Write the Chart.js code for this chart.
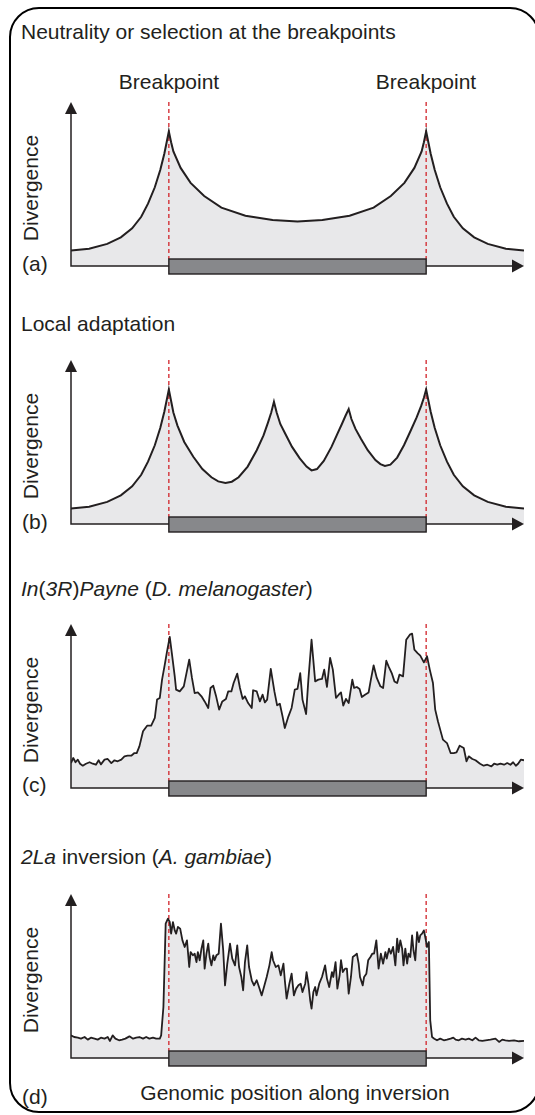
<!DOCTYPE html>
<html>
<head>
<meta charset="utf-8">
<script src="https://cdn.jsdelivr.net/npm/chart.js@4.4.1/dist/chart.umd.min.js"></script>
<style>
  body { margin: 0; background: #fff; width: 535px; height: 1115px; overflow: hidden; position: relative;
         font-family: "Liberation Sans", Arial, sans-serif; color: #231f20; }
  .frame { position: absolute; left: 8.75px; top: 6.75px; width: 531px; height: 1106.5px;
           border: 2.5px solid #000; border-radius: 30px; box-sizing: border-box; }
  .txt { position: absolute; font-size: 21px; line-height: 24px; white-space: nowrap; }
  .ctr { text-align: center; }
  canvas { position: absolute; left: 0; }
</style>
</head>
<body>
<div class="frame"></div>

<div class="txt" style="left:21px;top:19.5px">Neutrality or selection at the breakpoints</div>
<div class="txt ctr" style="left:99px;top:70px;width:140px">Breakpoint</div>
<div class="txt ctr" style="left:356px;top:70px;width:140px">Breakpoint</div>
<div class="txt" style="left:21px;top:312px">Local adaptation</div>
<div class="txt" style="left:21px;top:576.5px"><i>In</i>(<i>3R</i>)<i>Payne</i> (<i>D. melanogaster</i>)</div>
<div class="txt" style="left:21px;top:845px"><i>2La</i> inversion (<i>A. gambiae</i>)</div>

<div class="txt" style="left:22px;top:252px">(a)</div>
<div class="txt" style="left:22px;top:510px">(b)</div>
<div class="txt" style="left:22px;top:773px">(c)</div>
<div class="txt" style="left:22px;top:1084.5px">(d)</div>
<div class="txt ctr" style="left:95px;top:1081px;width:400px">Genomic position along inversion</div>

<div id="ylabels"></div>

<canvas id="chartA"></canvas>
<canvas id="chartB"></canvas>
<canvas id="chartC"></canvas>
<canvas id="chartD"></canvas>

<script>
// positions along the chromosome (0-100) and divergence (0-100 of axis height)
const breakpoints = [21.6, 78.4];

const posA = [0, 4, 8, 11, 13.5, 15.5, 17, 18.5, 19.7, 20.6, 21.6, 22.1, 22.6, 24.2, 26.4, 29.4, 33.2, 38.5, 44.5, 50,
  55.5, 61.5, 66.8, 70.6, 73.6, 75.8, 77.4, 77.9, 78.4, 79.4, 80.3, 81.5, 83, 84.5, 86.5, 89, 92, 96, 100];
const divA = [9.5, 10.5, 13.5, 17.5, 23, 30, 38, 48, 58.5, 68.5, 82, 75.5, 69.8, 59.8, 50.7, 42.7, 35.6, 30.6, 28, 27.2,
  28, 30.6, 35.6, 42.7, 50.7, 59.8, 69.8, 75.5, 82, 68.5, 58.5, 48, 38, 30, 23, 17.5, 13.5, 10.5, 9.5];

const posB = [0, 4, 8, 11, 13.5, 15.5, 17, 18.5, 19.7, 20.6, 21.6, 22.1, 22.6, 23.5, 25, 27, 29, 31, 32.5, 34.1,
  35.5, 37, 39, 41, 42.5, 43.5, 44.2, 44.8, 45.4, 46.2, 47.3, 48.8, 50.5, 52, 53.1, 54.3, 55.8, 57.5, 58.8, 59.8,
  60.6, 61.3, 61.9, 62.8, 64, 65.5, 67.2, 68.3, 69.3, 70.5, 72, 73.5, 75, 76.3, 77.3, 77.9, 78.4, 79.4, 80.3, 81.5,
  83, 84.5, 86.5, 89, 92, 96, 100];
const divB = [9.5, 10.5, 13.5, 17.5, 23, 30, 38, 48, 58.5, 68.5, 82, 75, 68, 60, 50, 41, 33.5, 28.5, 26, 25,
  25.8, 28.5, 35, 45, 54, 62, 68, 74.5, 68, 61, 55, 47, 40, 35, 32.7, 33.5, 38.5, 47, 55, 61,
  66, 70.1, 64, 58, 52, 45, 39, 36.5, 35.4, 36.2, 40.5, 48, 57, 65, 72, 77, 82, 68.5, 58.5, 48,
  38, 30, 23, 17.5, 13.5, 10.5, 9.5];

const posC = [0, 0.5, 1.0, 1.5, 2.0, 2.6, 3.3, 4.1, 4.8, 5.5, 6.1, 6.6, 7.4, 8.1, 8.9, 9.6, 10.3, 11.1, 11.8, 12.5,
  13.3, 14.0, 14.5, 15.1, 15.9, 16.8, 17.7, 18.5, 19.0, 19.6, 20.1, 20.7, 21.2, 21.8, 22.3, 22.9, 23.2, 24.0, 24.9, 26.1,
  26.7, 27.3, 28.0, 28.8, 29.5, 30.3, 30.8, 31.4, 32.0, 32.7, 33.4, 34.2, 34.7, 35.4, 35.9, 36.7, 37.3, 37.9, 38.4, 39.1,
  39.9, 40.2, 41.0, 41.7, 42.3, 42.8, 43.3, 44.1, 44.9, 45.5, 46.1, 46.7, 47.2, 48.0, 48.7, 49.4, 50.0, 50.6, 51.1, 51.9,
  52.4, 53.1, 53.9, 54.6, 55.4, 55.9, 56.5, 57.2, 57.8, 58.5, 59.3, 59.6, 60.1, 60.7, 61.3, 62.1, 62.5, 63.1, 63.7, 64.2,
  64.9, 65.7, 66.2, 66.8, 67.5, 68.3, 68.9, 69.6, 70.1, 70.8, 71.4, 72.0, 72.5, 73.3, 74.0, 74.8, 75.3, 75.8, 76.5, 77.1,
  77.9, 78.6, 79.2, 79.9, 80.4, 81.0, 81.5, 82.1, 83.0, 83.8, 84.5, 85.1, 85.8, 86.7, 87.3, 87.8, 88.6, 89.3, 90.3, 91.1,
  91.9, 92.8, 93.4, 94.1, 94.8, 95.6, 96.3, 97.0, 97.6, 98.2, 98.7, 99.3, 100];
const divC = [15.2, 18.3, 15.7, 17.3, 14.8, 13.6, 14.8, 15.7, 14.8, 14.2, 16.9, 14.4, 17.3, 17.7, 15.2, 16.9, 16.3, 17.3, 19.3, 19.7,
  19.7, 21.3, 21.3, 25.4, 34.6, 38.0, 38.0, 42.7, 53.9, 54.9, 66.1, 75.2, 83.3, 92.1, 81.3, 68.1, 60.0, 58.9, 62.0, 78.3,
  67.1, 57.9, 58.3, 55.9, 52.8, 48.8, 61.0, 62.4, 56.3, 47.8, 52.8, 54.3, 58.9, 58.9, 64.0, 69.7, 61.0, 54.3, 55.9, 51.8,
  48.8, 59.6, 58.9, 52.8, 56.9, 52.2, 53.9, 72.6, 58.9, 50.4, 51.4, 43.7, 36.6, 43.7, 48.8, 60.0, 60.4, 70.1, 53.9, 45.1,
  66.1, 90.4, 65.0, 66.1, 66.5, 72.2, 61.6, 79.3, 72.2, 54.9, 57.5, 58.3, 50.2, 54.3, 51.8, 66.1, 61.0, 61.6, 60.4, 55.5,
  56.9, 58.3, 66.1, 74.8, 67.1, 62.0, 61.0, 77.6, 74.2, 70.1, 65.0, 64.0, 69.1, 68.1, 90.4, 93.5, 94.1, 84.3, 82.3, 80.7,
  76.6, 80.3, 72.2, 64.0, 47.8, 40.7, 35.6, 29.5, 27.4, 21.3, 21.3, 21.7, 25.8, 24.4, 16.3, 19.3, 17.7, 16.9, 14.8, 13.6,
  14.2, 13.2, 14.8, 14.2, 14.8, 14.2, 15.2, 14.2, 15.7, 13.6, 14.8, 17.3, 16.9];

const posD = [0, 0.7, 1.5, 2.2, 3.0, 3.7, 4.4, 5.2, 5.9, 6.6, 7.4, 8.1, 8.6, 9.2, 9.8, 10.6, 11.3, 12.0, 12.9, 13.7,
  14.4, 15.1, 15.9, 16.6, 17.3, 18.1, 18.8, 19.6, 19.9, 20.4, 20.9, 21.4, 21.8, 22.1, 22.5, 22.9, 23.2, 23.6, 24.1, 24.6,
  25.1, 25.6, 26.1, 26.4, 26.9, 27.3, 27.7, 28.0, 28.4, 28.8, 29.2, 29.5, 29.9, 30.3, 30.6, 31.0, 31.4, 31.7, 32.1, 32.6,
  33.1, 33.6, 34.0, 34.5, 35.1, 35.6, 36.2, 36.7, 37.1, 37.6, 38.0, 38.4, 38.9, 39.3, 39.9, 40.4, 41.0, 41.5, 42.1, 42.6,
  43.2, 43.8, 44.3, 44.6, 45.2, 45.8, 46.3, 46.9, 47.2, 47.6, 48.2, 48.7, 49.2, 49.7, 50.2, 50.7, 51.1, 51.7, 52.0, 52.4,
  52.8, 53.1, 53.5, 53.9, 54.2, 54.8, 55.4, 55.7, 56.1, 56.5, 57.0, 57.6, 57.9, 58.4, 58.8, 59.3, 59.6, 60.0, 60.5, 60.9,
  61.3, 61.8, 62.2, 62.7, 63.1, 63.5, 63.8, 64.4, 64.7, 65.2, 65.6, 66.1, 66.5, 66.9, 67.4, 67.9, 68.4, 68.9, 69.4, 69.7,
  70.2, 70.6, 71.1, 71.6, 72.0, 72.3, 72.7, 73.1, 73.4, 73.8, 74.2, 74.5, 74.9, 75.3, 75.6, 76.0, 76.4, 76.8, 77.1, 77.5,
  77.9, 78.2, 78.6, 79.0, 79.3, 79.7, 80.2, 80.8, 81.5, 82.3, 83.0, 83.8, 84.4, 84.9, 85.6, 86.3, 87.1, 87.8, 88.6, 89.3,
  90.0, 90.8, 91.5, 92.6, 93.7, 94.5, 95.2, 95.9, 96.7, 97.8, 98.9, 100];
const divD = [13.8, 12.8, 12.4, 11.8, 12.8, 11.2, 12.4, 11.8, 11.2, 12.4, 11.8, 12.8, 10.4, 13.8, 11.8, 10.8, 11.2, 11.8, 13.2, 11.8,
  12.4, 12.8, 11.8, 12.8, 11.8, 12.4, 11.8, 11.8, 13.8, 31.1, 81.9, 85.0, 82.9, 75.8, 82.9, 77.8, 75.8, 79.9, 78.9, 71.7,
  67.7, 71.7, 55.5, 64.6, 62.6, 63.6, 58.5, 64.6, 59.6, 66.7, 71.7, 54.5, 63.6, 69.7, 61.6, 56.5, 62.6, 59.6, 62.6, 63.6,
  81.9, 65.7, 44.3, 57.5, 69.7, 60.6, 56.5, 68.7, 55.5, 49.4, 41.3, 58.5, 68.7, 55.5, 47.4, 44.3, 47.4, 43.3, 38.2, 43.3,
  49.4, 56.5, 64.6, 59.6, 55.5, 56.5, 50.4, 57.5, 47.4, 36.2, 45.3, 51.4, 38.2, 42.3, 44.3, 45.3, 40.2, 45.3, 52.4, 45.3,
  35.2, 30.1, 40.2, 43.3, 38.2, 45.3, 49.4, 52.4, 56.5, 48.4, 43.3, 52.4, 49.4, 58.5, 42.3, 50.4, 59.6, 52.4, 54.5, 54.5,
  39.2, 49.4, 61.6, 62.6, 63.6, 57.5, 49.4, 44.3, 49.4, 51.4, 59.6, 61.6, 63.6, 63.6, 71.7, 54.5, 63.6, 57.5, 64.6, 60.6,
  66.7, 63.6, 67.7, 56.5, 72.8, 64.6, 71.7, 66.7, 56.5, 66.7, 57.5, 63.6, 61.6, 74.8, 65.7, 59.6, 76.8, 70.7, 74.8, 75.8,
  77.8, 73.8, 67.7, 70.7, 23.0, 12.8, 11.8, 10.8, 11.8, 10.8, 11.2, 11.8, 12.4, 11.2, 10.8, 11.8, 11.2, 11.8, 10.8, 12.4,
  10.8, 10.4, 10.8, 11.2, 11.8, 9.8, 11.2, 10.8, 10.4, 10.8, 10.2, 10.4];

// top = arrow tip of the y axis, base = x axis (page pixels)
const panels = [
  { id: 'chartA', pos: posA, div: divA, top: 102, base: 266, noisy: false },
  { id: 'chartB', pos: posB, div: divB, top: 360, base: 524, noisy: false },
  { id: 'chartC', pos: posC, div: divC, top: 624, base: 788, noisy: true },
  { id: 'chartD', pos: posD, div: divD, top: 894, base: 1058, noisy: true }
];

const INK = '#231f20';

const decor = {
  id: 'decor',
  beforeDatasetDraw(chart) {
    // red dashed breakpoint lines, over the fill and under the curve
    const { ctx, chartArea, scales: { x, y } } = chart;
    const base = y.getPixelForValue(0);
    ctx.save();
    ctx.strokeStyle = '#d2232a';
    ctx.lineWidth = 1.3;
    ctx.setLineDash([4, 3]);
    breakpoints.forEach(b => {
      const px = x.getPixelForValue(b);
      ctx.beginPath();
      ctx.moveTo(px, chartArea.top);
      ctx.lineTo(px, base - 7);
      ctx.stroke();
    });
    ctx.restore();
  },
  afterDatasetsDraw(chart) {
    const { ctx, chartArea, scales: { x, y } } = chart;
    const left = chartArea.left, right = chartArea.right, top = chartArea.top;
    const base = y.getPixelForValue(0);
    ctx.save();
    ctx.strokeStyle = INK;
    ctx.fillStyle = INK;
    ctx.lineWidth = 1.5;
    // axes
    ctx.beginPath();
    ctx.moveTo(left, top + 10);
    ctx.lineTo(left, base);
    ctx.lineTo(right - 10, base);
    ctx.stroke();
    // arrow heads
    ctx.beginPath();
    ctx.moveTo(left, top);
    ctx.lineTo(left - 6, top + 12);
    ctx.lineTo(left + 6, top + 12);
    ctx.closePath();
    ctx.fill();
    ctx.beginPath();
    ctx.moveTo(right, base);
    ctx.lineTo(right - 12, base - 6.5);
    ctx.lineTo(right - 12, base + 6.5);
    ctx.closePath();
    ctx.fill();
    // inversion bar
    const x1 = x.getPixelForValue(breakpoints[0]);
    const x2 = x.getPixelForValue(breakpoints[1]);
    ctx.fillStyle = '#87888b';
    ctx.lineWidth = 1.4;
    ctx.fillRect(x1, base - 7, x2 - x1, 15);
    ctx.strokeRect(x1, base - 7, x2 - x1, 15);
    ctx.restore();
  }
};

const ylabels = document.getElementById('ylabels');

panels.forEach(p => {
  const cv = document.getElementById(p.id);
  const padTop = 20, padBottom = 20;
  cv.width = 535;
  cv.height = p.base - p.top + padTop + padBottom;
  cv.style.top = (p.top - padTop) + 'px';

  const lab = document.createElement('div');
  lab.className = 'txt ctr';
  lab.textContent = 'Divergence';
  lab.style.width = '140px';
  lab.style.left = (30.5 - 70) + 'px';
  lab.style.top = (p.base - 78 - 12) + 'px';
  lab.style.transform = 'rotate(-90deg)';
  ylabels.appendChild(lab);

  new Chart(cv.getContext('2d'), {
    type: 'line',
    data: {
      datasets: [{
        data: p.pos.map((v, i) => ({ x: v, y: p.div[i] })),
        borderColor: INK,
        borderWidth: p.noisy ? 1.8 : 2,
        borderJoinStyle: p.noisy ? 'round' : 'miter',
        backgroundColor: '#e8e8ea',
        fill: 'origin',
        pointRadius: 0,
        tension: 0
      }]
    },
    options: {
      responsive: false,
      animation: false,
      layout: { padding: { left: 71, right: 11, top: padTop, bottom: padBottom } },
      plugins: { legend: { display: false }, tooltip: { enabled: false }, title: { display: false } },
      scales: {
        x: { type: 'linear', min: 0, max: 100, display: false },
        y: { min: 0, max: 100, display: false }
      }
    },
    plugins: [decor]
  });
});
</script>
</body>
</html>
